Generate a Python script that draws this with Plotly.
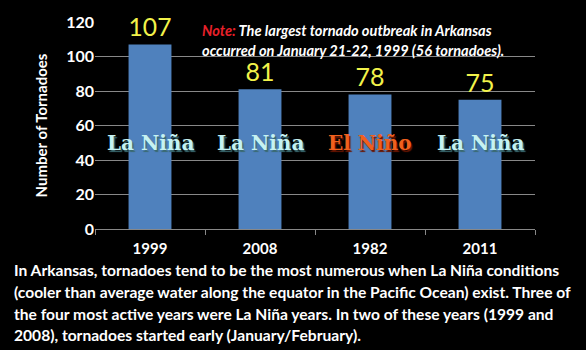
import plotly.graph_objects as go

years = ["1999", "2008", "1982", "2011"]
counts = [107, 81, 78, 75]
phases = ["La Niña", "La Niña", "El Niño", "La Niña"]
phase_colors = {"La Niña": "#C6F2F2", "El Niño": "#F0601E"}
shadow_colors = {"La Niña": "#3a6a70", "El Niño": "#6a1500"}
y_ticks = [0, 20, 40, 60, 80, 100, 120]
note_lines = ["<span style='color:#E8202A'>Note:</span> The largest tornado outbreak in Arkansas",
              "occurred on January 21-22, 1999 (56 tornadoes)."]
para_lines = ["In Arkansas, tornadoes tend to be the most numerous when La Niña conditions",
              "(cooler than average water along the equator in the Pacific Ocean) exist. Three of",
              "the four most active years were La Niña years. In two of these years (1999 and",
              "2008), tornadoes started early (January/February)."]

W, H = 586, 350
L, R, T, B = 95, 51, 13, 121
pw, ph = W - L - R, H - T - B

def px(x):
    return (x - L) / pw

def py(y):
    return (H - B - y) / ph

fig = go.Figure()
fig.add_trace(go.Bar(
    x=years, y=counts, marker=dict(color="#4F81BD", line=dict(width=0)),
    text=[str(c) for c in counts], textposition="outside",
    textfont=dict(color="#F2F24A", size=25, family="Lato"),
    cliponaxis=False,
))

for i, (yr, ph_) in enumerate(zip(years, phases)):
    fig.add_annotation(x=i, y=50, text="<b>%s</b>" % ph_, showarrow=False,
                       font=dict(family="DejaVu Serif", size=20, color=phase_colors[ph_],
                                 shadow="1.5px 1.5px 1px %s" % shadow_colors[ph_]))

for k, line in enumerate(note_lines):
    fig.add_annotation(xref="paper", yref="paper", x=px(200), y=py(22 + 20.5 * k),
                       xanchor="left", yanchor="middle", align="left", showarrow=False,
                       text="<b><i>%s</i></b>" % line,
                       font=dict(family="Lato", size=14.6, color="white"))

for k, line in enumerate(para_lines):
    fig.add_annotation(xref="paper", yref="paper", x=px(12), y=py(272 + 22.7 * k),
                       xanchor="left", yanchor="middle", align="left", showarrow=False,
                       text="<b>%s</b>" % line,
                       font=dict(family="Lato", size=15.6, color="white"))

fig.update_layout(
    width=W, height=H, margin=dict(l=L, r=R, t=T, b=B),
    paper_bgcolor="black", plot_bgcolor="black", showlegend=False, bargap=0.61,
    font=dict(family="Lato", color="white"),
)
fig.update_xaxes(type="category", tickson="boundaries", ticks="outside", ticklen=5, tickcolor="#888",
                 showline=True, linecolor="#888", linewidth=1, ticklabelstandoff=6,
                 tickfont=dict(size=15, color="white", family="Lato"), showgrid=False,
                 ticktext=["<b>%s</b>" % y for y in years], tickvals=years)
fig.update_yaxes(range=[0, 120], tickvals=y_ticks, ticktext=["<b>%d</b>" % v for v in y_ticks],
                 showgrid=True, gridcolor="#888", gridwidth=1,
                 zeroline=False, showline=False, ticks="",
                 tickfont=dict(size=16, color="white", family="Lato"),
                 title=dict(text="<b>Number of Tornadoes</b>", font=dict(size=15, color="white", family="Lato"), standoff=14))

fig.write_html("out.html")
